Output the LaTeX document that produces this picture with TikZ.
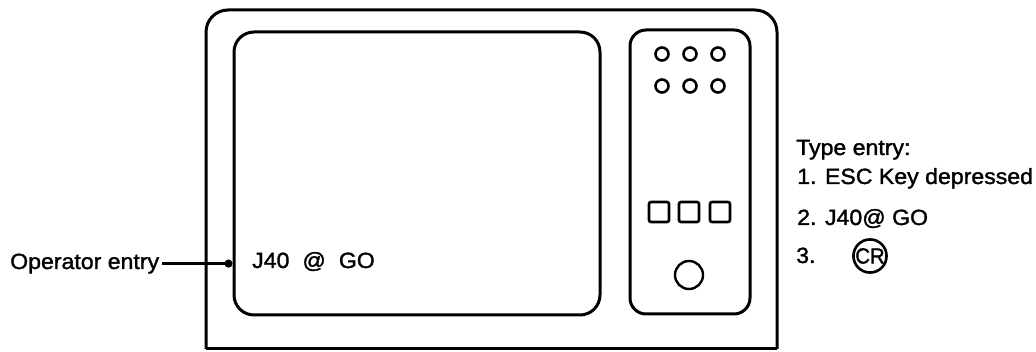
\documentclass[tikz,border=0pt]{standalone}
\usepackage{fontspec}
\setmainfont{Liberation Sans}[FakeStretch=1.05, FakeBold=1.5]
\usetikzlibrary{arrows.meta}
\begin{document}
\begin{tikzpicture}[x=1pt,y=-1pt,
  frame/.style={line width=3pt},
  lab/.style={font=\fontsize{22}{26}\selectfont, inner sep=0pt, anchor=base west},
  lamp/.style={circle, draw, line width=2.6pt, minimum size=13pt, inner sep=0pt},
  keybox/.style={draw, line width=2.6pt, rounded corners=2pt, minimum size=20pt, inner sep=0pt},
  bigbtn/.style={circle, draw, line width=2.4pt, minimum size=28pt, inner sep=0pt},
  crkey/.style={circle, draw, line width=2.6pt, minimum size=32pt, inner sep=0pt, font=\fontsize{22}{26}\selectfont},
  pointer/.style={line width=2.6pt, -{Circle[length=8pt]}},
  ]
\useasboundingbox (0,0) rectangle (1036,352);
% cabinet
\draw[frame, rounded corners=22pt] (206,349) -- (206,10) -- (777,10) -- (777,349);
\draw[frame] (206,349) -- (777,349);
% screen and side panel
\node[frame, draw, rounded corners=20pt, minimum width=366pt, minimum height=283pt, inner sep=0pt] (screen) at (417,173.5) {};
\node[frame, draw, rounded corners=16pt, minimum width=120pt, minimum height=284pt, inner sep=0pt] (panel) at (690,172) {};
% lamps
\node[lamp] (l1) at (662,54) {};
\node[lamp] (l2) at (690,54) {};
\node[lamp] (l3) at (718,54) {};
\node[lamp] (l4) at (662,86) {};
\node[lamp] (l5) at (690,86) {};
\node[lamp] (l6) at (718,86) {};
% keys
\node[keybox] (k1) at (659,212) {};
\node[keybox] (k2) at (689,212) {};
\node[keybox] (k3) at (720,212) {};
\node[bigbtn] (btn) at (689,275) {};
% texts
\node[lab] (screentext) at (252,268) {\spaceskip=13pt J40 @ GO};
\node[lab, inner xsep=3pt] (op) at (7,269) {Operator entry};
\draw[pointer] (op.east) -- (op.east -| screen.west);
\node[lab] (t0) at (796,155) {Type entry:};
\node[lab] (t1) at (797,184) {1. ESC Key depressed};
\node[lab] (t2) at (797,225) {2. J40@ GO};
\node[lab] (t3) at (796,263) {3.};
\node[crkey] (cr) at (870,256) {\scalebox{0.88}[1]{CR}};
\end{tikzpicture}
\end{document}
